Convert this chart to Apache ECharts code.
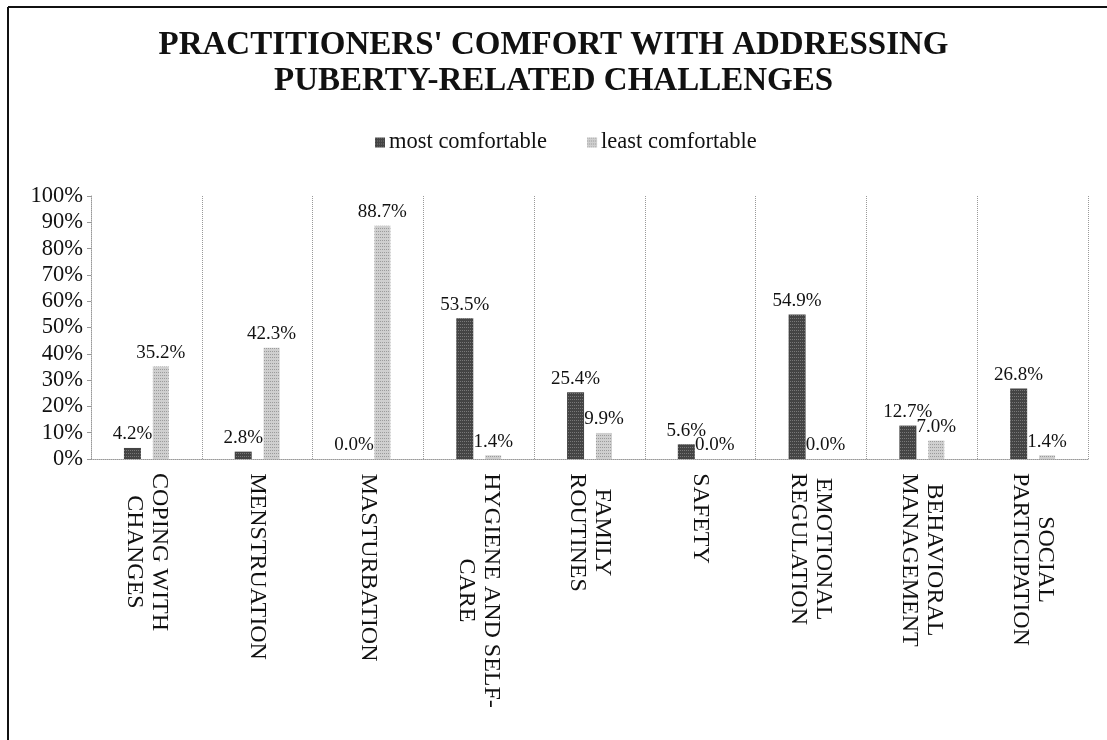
<!DOCTYPE html>
<html>
<head>
<meta charset="utf-8">
<script src="https://cdn.jsdelivr.net/npm/echarts@6/dist/echarts.min.js"></script>
<style>
html,body{margin:0;padding:0;background:#fff;}
#chart{width:1107px;height:740px;}
</style>
</head>
<body>
<div id="chart"></div>
<script>
const titleText = "PRACTITIONERS' COMFORT WITH ADDRESSING\nPUBERTY-RELATED CHALLENGES";
const categories = ['COPING WITH\nCHANGES', 'MENSTRUATION', 'MASTURBATION', 'HYGIENE AND SELF-\nCARE', 'FAMILY\nROUTINES', 'SAFETY', 'EMOTIONAL\nREGULATION', 'BEHAVIORAL\nMANAGEMENT', 'SOCIAL\nPARTICIPATION'];
const seriesNames = ['most comfortable', 'least comfortable'];
const mostComfortable = [4.2, 2.8, 0.0, 53.5, 25.4, 5.6, 54.9, 12.7, 26.8];
const leastComfortable = [35.2, 42.3, 88.7, 1.4, 9.9, 0.0, 0.0, 7.0, 1.4];
const yMin = 0, yMax = 100, yStep = 10;

const SERIF = '"Liberation Serif", "Times New Roman", serif';
const catFontSize = 24;
const mctx = document.createElement('canvas').getContext('2d');
mctx.font = catFontSize + 'px ' + SERIF;
const rich = {};
categories.forEach((c, i) => {
  const w = Math.max(...c.split('\n').map(s => mctx.measureText(s).width));
  rich['c' + i] = {width: Math.ceil(w) + 2, align: 'center', fontSize: catFontSize, fontFamily: SERIF, color: '#111', lineHeight: 25};
});

const chart = echarts.init(document.getElementById('chart'), null, {renderer: 'canvas'});
const pct = p => p.value.toFixed(1) + '%';
const labelStyle = {show: true, position: 'top', distance: 4, formatter: pct, fontFamily: SERIF, fontSize: 19, color: '#111'};

chart.setOption({
  backgroundColor: '#fff',
  animation: false,
  title: {
    text: titleText,
    left: 'center',
    top: 22,
    textStyle: {fontFamily: SERIF, fontWeight: 'bold', fontSize: 33, lineHeight: 36, color: '#111'}
  },
  legend: {
    data: seriesNames,
    left: 370,
    top: 126,
    itemWidth: 10,
    itemHeight: 10,
    itemGap: 40,
    icon: 'rect',
    textStyle: {fontFamily: SERIF, fontSize: 22.5, color: '#111', padding: [0, 0, 0, -1]}
  },
  grid: {left: 91, right: 19, top: 196, bottom: 281, containLabel: false},
  xAxis: {
    type: 'category',
    data: categories,
    axisLine: {show: true, lineStyle: {color: '#999', type: 'dotted', width: 1}},
    axisTick: {show: false},
    splitLine: {show: true, lineStyle: {color: '#999', type: 'dotted', width: 1}},
    axisLabel: {
      interval: 0,
      rotate: -90,
      margin: 13,
      formatter: (v, i) => v.split('\n').map(s => '{c' + i + '|' + s + '}').join('\n'),
      rich: rich
    }
  },
  yAxis: {
    type: 'value',
    min: yMin,
    max: yMax,
    interval: yStep,
    axisLine: {show: true, lineStyle: {color: '#999', type: 'dotted'}},
    axisTick: {show: true, length: 4, lineStyle: {color: '#999'}},
    splitLine: {show: false},
    axisLabel: {formatter: '{value}%', fontFamily: SERIF, fontSize: 22.5, color: '#111', margin: 8}
  },
  series: [
    {
      name: seriesNames[0],
      type: 'bar',
      data: mostComfortable,
      barWidth: 17,
      barGap: '70%',
      itemStyle: {
        color: '#444',
        decal: {symbol: 'rect', symbolSize: 1, dashArrayX: [1, 1], dashArrayY: [1, 2], color: 'rgba(255,255,255,0.28)'}
      },
      label: labelStyle
    },
    {
      name: seriesNames[1],
      type: 'bar',
      data: leastComfortable,
      barWidth: 16,
      itemStyle: {
        color: '#cfcfcf',
        decal: {symbol: 'rect', symbolSize: 1, dashArrayX: [1, 1], dashArrayY: [1, 2], color: 'rgba(90,90,90,0.45)'}
      },
      label: labelStyle
    }
  ],
  graphic: [
    {type: 'line', shape: {x1: 8, y1: 7, x2: 1107, y2: 7}, style: {stroke: '#111', lineWidth: 2}, silent: true},
    {type: 'line', shape: {x1: 8, y1: 7, x2: 8, y2: 740}, style: {stroke: '#111', lineWidth: 2}, silent: true}
  ]
});
</script>
</body>
</html>
